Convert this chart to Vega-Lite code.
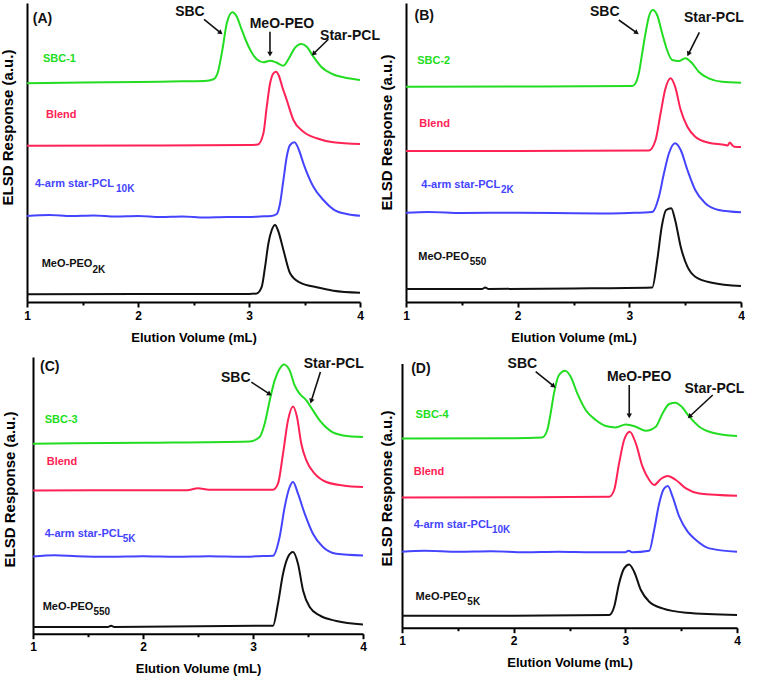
{
  "$schema": "https://vega.github.io/schema/vega-lite/v6.json",
  "background": "white",
  "padding": {"left": 0, "top": 3, "right": 0, "bottom": 0},
  "autosize": {"type": "pad"},
  "config": {
    "view": {"stroke": null},
    "axis": {"domainColor": "#000", "domainWidth": 2, "tickColor": "#000", "tickWidth": 2, "labelFont": "Liberation Sans", "labelFontSize": 12, "labelFontWeight": "bold", "labelColor": "#000", "titleFont": "Liberation Sans", "titleFontSize": 13, "titleFontWeight": "bold", "titleColor": "#000", "grid": false, "labelPadding": 3},
    "text": {"font": "Liberation Sans"}
  },
  "datasets": {
    "traces": [
      {"p":"A","s":"SBC","v":1,"r":218.7},{"p":"A","s":"SBC","v":1.5,"r":219.5},{"p":"A","s":"SBC","v":2,"r":220},{"p":"A","s":"SBC","v":2.3,"r":220.5},{"p":"A","s":"SBC","v":2.6,"r":221},{"p":"A","s":"SBC","v":2.68,"r":222.7},{"p":"A","s":"SBC","v":2.72,"r":230},{"p":"A","s":"SBC","v":2.76,"r":252},{"p":"A","s":"SBC","v":2.8,"r":278.7},{"p":"A","s":"SBC","v":2.85,"r":289.7},{"p":"A","s":"SBC","v":2.89,"r":285.3},{"p":"A","s":"SBC","v":2.93,"r":273.7},{"p":"A","s":"SBC","v":2.97,"r":262},{"p":"A","s":"SBC","v":3.02,"r":250.3},{"p":"A","s":"SBC","v":3.07,"r":242.7},{"p":"A","s":"SBC","v":3.13,"r":239.7},{"p":"A","s":"SBC","v":3.19,"r":241.3},{"p":"A","s":"SBC","v":3.25,"r":239.3},{"p":"A","s":"SBC","v":3.31,"r":236.3},{"p":"A","s":"SBC","v":3.36,"r":243.7},{"p":"A","s":"SBC","v":3.41,"r":253.7},{"p":"A","s":"SBC","v":3.47,"r":258},{"p":"A","s":"SBC","v":3.52,"r":255.3},{"p":"A","s":"SBC","v":3.58,"r":245.3},{"p":"A","s":"SBC","v":3.65,"r":235.3},{"p":"A","s":"SBC","v":3.75,"r":228},{"p":"A","s":"SBC","v":3.85,"r":224.7},{"p":"A","s":"SBC","v":4,"r":222},
      {"p":"A","s":"Blend","v":1,"r":156.3},{"p":"A","s":"Blend","v":2,"r":156.5},{"p":"A","s":"Blend","v":3,"r":157},{"p":"A","s":"Blend","v":3.08,"r":157.5},{"p":"A","s":"Blend","v":3.13,"r":168.7},{"p":"A","s":"Blend","v":3.16,"r":195.3},{"p":"A","s":"Blend","v":3.19,"r":218.7},{"p":"A","s":"Blend","v":3.22,"r":228.7},{"p":"A","s":"Blend","v":3.245,"r":230.3},{"p":"A","s":"Blend","v":3.27,"r":226},{"p":"A","s":"Blend","v":3.3,"r":215},{"p":"A","s":"Blend","v":3.34,"r":202},{"p":"A","s":"Blend","v":3.4,"r":182},{"p":"A","s":"Blend","v":3.49,"r":170.3},{"p":"A","s":"Blend","v":3.61,"r":163.7},{"p":"A","s":"Blend","v":3.76,"r":159.7},{"p":"A","s":"Blend","v":4,"r":158},
      {"p":"A","s":"PCL","v":1,"r":86},{"p":"A","s":"PCL","v":1.2,"r":87},{"p":"A","s":"PCL","v":1.4,"r":86},{"p":"A","s":"PCL","v":1.6,"r":86.5},{"p":"A","s":"PCL","v":1.8,"r":85.5},{"p":"A","s":"PCL","v":2,"r":86},{"p":"A","s":"PCL","v":2.2,"r":85},{"p":"A","s":"PCL","v":2.4,"r":85.5},{"p":"A","s":"PCL","v":2.6,"r":84.5},{"p":"A","s":"PCL","v":2.8,"r":85},{"p":"A","s":"PCL","v":3,"r":85},{"p":"A","s":"PCL","v":3.1,"r":85.5},{"p":"A","s":"PCL","v":3.2,"r":86},{"p":"A","s":"PCL","v":3.25,"r":88},{"p":"A","s":"PCL","v":3.28,"r":98.7},{"p":"A","s":"PCL","v":3.31,"r":122},{"p":"A","s":"PCL","v":3.34,"r":145.3},{"p":"A","s":"PCL","v":3.37,"r":157},{"p":"A","s":"PCL","v":3.41,"r":159.7},{"p":"A","s":"PCL","v":3.45,"r":152},{"p":"A","s":"PCL","v":3.49,"r":138.7},{"p":"A","s":"PCL","v":3.58,"r":115.3},{"p":"A","s":"PCL","v":3.67,"r":102},{"p":"A","s":"PCL","v":3.76,"r":92.7},{"p":"A","s":"PCL","v":3.88,"r":88},{"p":"A","s":"PCL","v":4,"r":86.3},
      {"p":"A","s":"PEO","v":1,"r":7.7},{"p":"A","s":"PEO","v":2,"r":8},{"p":"A","s":"PEO","v":3,"r":8},{"p":"A","s":"PEO","v":3.07,"r":8.5},{"p":"A","s":"PEO","v":3.115,"r":15.3},{"p":"A","s":"PEO","v":3.145,"r":35.3},{"p":"A","s":"PEO","v":3.175,"r":58.7},{"p":"A","s":"PEO","v":3.205,"r":72},{"p":"A","s":"PEO","v":3.235,"r":77},{"p":"A","s":"PEO","v":3.26,"r":72},{"p":"A","s":"PEO","v":3.31,"r":52},{"p":"A","s":"PEO","v":3.37,"r":28.7},{"p":"A","s":"PEO","v":3.46,"r":19.3},{"p":"A","s":"PEO","v":3.61,"r":14.7},{"p":"A","s":"PEO","v":3.76,"r":11.3},{"p":"A","s":"PEO","v":4,"r":9.3},

      {"p":"B","s":"SBC","v":1,"r":215.3},{"p":"B","s":"SBC","v":2,"r":215.5},{"p":"B","s":"SBC","v":3.026,"r":216},{"p":"B","s":"SBC","v":3.055,"r":218.7},{"p":"B","s":"SBC","v":3.085,"r":228.7},{"p":"B","s":"SBC","v":3.115,"r":248.7},{"p":"B","s":"SBC","v":3.145,"r":268.7},{"p":"B","s":"SBC","v":3.175,"r":285.3},{"p":"B","s":"SBC","v":3.21,"r":292},{"p":"B","s":"SBC","v":3.249,"r":287},{"p":"B","s":"SBC","v":3.294,"r":268.7},{"p":"B","s":"SBC","v":3.338,"r":252},{"p":"B","s":"SBC","v":3.383,"r":242},{"p":"B","s":"SBC","v":3.443,"r":241},{"p":"B","s":"SBC","v":3.502,"r":243.7},{"p":"B","s":"SBC","v":3.562,"r":238.7},{"p":"B","s":"SBC","v":3.621,"r":230.3},{"p":"B","s":"SBC","v":3.711,"r":223.7},{"p":"B","s":"SBC","v":3.83,"r":220.3},{"p":"B","s":"SBC","v":4,"r":219.3},
      {"p":"B","s":"Blend","v":1,"r":151},{"p":"B","s":"Blend","v":2,"r":151},{"p":"B","s":"Blend","v":3.175,"r":151.5},{"p":"B","s":"Blend","v":3.235,"r":162},{"p":"B","s":"Blend","v":3.28,"r":188.7},{"p":"B","s":"Blend","v":3.32,"r":212},{"p":"B","s":"Blend","v":3.37,"r":223.7},{"p":"B","s":"Blend","v":3.41,"r":215.3},{"p":"B","s":"Blend","v":3.46,"r":192},{"p":"B","s":"Blend","v":3.52,"r":175.3},{"p":"B","s":"Blend","v":3.59,"r":165.3},{"p":"B","s":"Blend","v":3.71,"r":159.3},{"p":"B","s":"Blend","v":3.86,"r":157},{"p":"B","s":"Blend","v":3.88,"r":156.5},{"p":"B","s":"Blend","v":3.9,"r":159.5},{"p":"B","s":"Blend","v":3.92,"r":157},{"p":"B","s":"Blend","v":3.94,"r":155.3},{"p":"B","s":"Blend","v":4,"r":155},
      {"p":"B","s":"PCL","v":1,"r":89.3},{"p":"B","s":"PCL","v":1.2,"r":90},{"p":"B","s":"PCL","v":1.5,"r":89},{"p":"B","s":"PCL","v":2,"r":89.3},{"p":"B","s":"PCL","v":2.5,"r":88.8},{"p":"B","s":"PCL","v":2.8,"r":88.5},{"p":"B","s":"PCL","v":3,"r":89},{"p":"B","s":"PCL","v":3.205,"r":90},{"p":"B","s":"PCL","v":3.265,"r":105.3},{"p":"B","s":"PCL","v":3.31,"r":128.7},{"p":"B","s":"PCL","v":3.355,"r":148.7},{"p":"B","s":"PCL","v":3.41,"r":158.7},{"p":"B","s":"PCL","v":3.46,"r":152},{"p":"B","s":"PCL","v":3.52,"r":132},{"p":"B","s":"PCL","v":3.59,"r":112},{"p":"B","s":"PCL","v":3.68,"r":98.7},{"p":"B","s":"PCL","v":3.8,"r":92},{"p":"B","s":"PCL","v":4,"r":89.7},
      {"p":"B","s":"PEO","v":1,"r":13},{"p":"B","s":"PEO","v":1.68,"r":13},{"p":"B","s":"PEO","v":1.71,"r":14.5},{"p":"B","s":"PEO","v":1.74,"r":13},{"p":"B","s":"PEO","v":2.5,"r":13.5},{"p":"B","s":"PEO","v":3.205,"r":14.5},{"p":"B","s":"PEO","v":3.25,"r":42},{"p":"B","s":"PEO","v":3.29,"r":75.3},{"p":"B","s":"PEO","v":3.33,"r":92},{"p":"B","s":"PEO","v":3.375,"r":93.7},{"p":"B","s":"PEO","v":3.41,"r":82},{"p":"B","s":"PEO","v":3.46,"r":55.3},{"p":"B","s":"PEO","v":3.52,"r":35.3},{"p":"B","s":"PEO","v":3.59,"r":25.3},{"p":"B","s":"PEO","v":3.74,"r":19.3},{"p":"B","s":"PEO","v":4,"r":16},

      {"p":"C","s":"SBC","v":1,"r":190},{"p":"C","s":"SBC","v":2,"r":191},{"p":"C","s":"SBC","v":2.97,"r":192.3},{"p":"C","s":"SBC","v":3.06,"r":196.7},{"p":"C","s":"SBC","v":3.106,"r":210},{"p":"C","s":"SBC","v":3.152,"r":233.3},{"p":"C","s":"SBC","v":3.197,"r":253.3},{"p":"C","s":"SBC","v":3.242,"r":265},{"p":"C","s":"SBC","v":3.282,"r":269.3},{"p":"C","s":"SBC","v":3.333,"r":263.3},{"p":"C","s":"SBC","v":3.379,"r":248.3},{"p":"C","s":"SBC","v":3.424,"r":240},{"p":"C","s":"SBC","v":3.485,"r":233.3},{"p":"C","s":"SBC","v":3.545,"r":223.3},{"p":"C","s":"SBC","v":3.606,"r":213.3},{"p":"C","s":"SBC","v":3.697,"r":203.3},{"p":"C","s":"SBC","v":3.818,"r":198.3},{"p":"C","s":"SBC","v":4,"r":196.7},
      {"p":"C","s":"Blend","v":1,"r":143.3},{"p":"C","s":"Blend","v":2,"r":143.5},{"p":"C","s":"Blend","v":2.4,"r":143.5},{"p":"C","s":"Blend","v":2.5,"r":145.5},{"p":"C","s":"Blend","v":2.6,"r":144},{"p":"C","s":"Blend","v":3.182,"r":144},{"p":"C","s":"Blend","v":3.227,"r":150},{"p":"C","s":"Blend","v":3.273,"r":180},{"p":"C","s":"Blend","v":3.318,"r":213.3},{"p":"C","s":"Blend","v":3.364,"r":227.3},{"p":"C","s":"Blend","v":3.4,"r":216.7},{"p":"C","s":"Blend","v":3.439,"r":190},{"p":"C","s":"Blend","v":3.485,"r":173.3},{"p":"C","s":"Blend","v":3.561,"r":160},{"p":"C","s":"Blend","v":3.667,"r":151.7},{"p":"C","s":"Blend","v":3.818,"r":148.3},{"p":"C","s":"Blend","v":4,"r":146.7},
      {"p":"C","s":"PCL","v":1,"r":77.3},{"p":"C","s":"PCL","v":1.2,"r":78.5},{"p":"C","s":"PCL","v":1.4,"r":77.5},{"p":"C","s":"PCL","v":1.7,"r":77},{"p":"C","s":"PCL","v":2,"r":77.5},{"p":"C","s":"PCL","v":2.3,"r":77},{"p":"C","s":"PCL","v":2.6,"r":77.5},{"p":"C","s":"PCL","v":2.9,"r":77},{"p":"C","s":"PCL","v":3.05,"r":77.5},{"p":"C","s":"PCL","v":3.182,"r":78},{"p":"C","s":"PCL","v":3.242,"r":96.7},{"p":"C","s":"PCL","v":3.288,"r":126.7},{"p":"C","s":"PCL","v":3.333,"r":146.7},{"p":"C","s":"PCL","v":3.364,"r":151.7},{"p":"C","s":"PCL","v":3.409,"r":140},{"p":"C","s":"PCL","v":3.47,"r":120},{"p":"C","s":"PCL","v":3.545,"r":100},{"p":"C","s":"PCL","v":3.636,"r":86.7},{"p":"C","s":"PCL","v":3.758,"r":80},{"p":"C","s":"PCL","v":4,"r":78.3},
      {"p":"C","s":"PEO","v":1,"r":6.7},{"p":"C","s":"PEO","v":1.68,"r":6.7},{"p":"C","s":"PEO","v":1.71,"r":8},{"p":"C","s":"PEO","v":1.74,"r":6.7},{"p":"C","s":"PEO","v":3.182,"r":8},{"p":"C","s":"PEO","v":3.227,"r":30},{"p":"C","s":"PEO","v":3.273,"r":60},{"p":"C","s":"PEO","v":3.318,"r":76.7},{"p":"C","s":"PEO","v":3.364,"r":81.7},{"p":"C","s":"PEO","v":3.409,"r":70},{"p":"C","s":"PEO","v":3.455,"r":43.3},{"p":"C","s":"PEO","v":3.515,"r":26.7},{"p":"C","s":"PEO","v":3.606,"r":18.3},{"p":"C","s":"PEO","v":3.758,"r":12.7},{"p":"C","s":"PEO","v":4,"r":9.3},

      {"p":"D","s":"SBC","v":1,"r":189.3},{"p":"D","s":"SBC","v":2,"r":189.5},{"p":"D","s":"SBC","v":2.256,"r":190.3},{"p":"D","s":"SBC","v":2.301,"r":197.7},{"p":"D","s":"SBC","v":2.331,"r":214.3},{"p":"D","s":"SBC","v":2.361,"r":234.3},{"p":"D","s":"SBC","v":2.406,"r":252.7},{"p":"D","s":"SBC","v":2.46,"r":257},{"p":"D","s":"SBC","v":2.511,"r":251},{"p":"D","s":"SBC","v":2.57,"r":234.3},{"p":"D","s":"SBC","v":2.645,"r":217.7},{"p":"D","s":"SBC","v":2.735,"r":207.7},{"p":"D","s":"SBC","v":2.825,"r":201.7},{"p":"D","s":"SBC","v":2.914,"r":200.3},{"p":"D","s":"SBC","v":3.004,"r":203.3},{"p":"D","s":"SBC","v":3.094,"r":201},{"p":"D","s":"SBC","v":3.184,"r":197},{"p":"D","s":"SBC","v":3.273,"r":201},{"p":"D","s":"SBC","v":3.333,"r":214.3},{"p":"D","s":"SBC","v":3.393,"r":223.7},{"p":"D","s":"SBC","v":3.447,"r":225},{"p":"D","s":"SBC","v":3.498,"r":221.7},{"p":"D","s":"SBC","v":3.573,"r":211},{"p":"D","s":"SBC","v":3.662,"r":201},{"p":"D","s":"SBC","v":3.782,"r":195},{"p":"D","s":"SBC","v":4,"r":191.7},
      {"p":"D","s":"Blend","v":1,"r":130.3},{"p":"D","s":"Blend","v":2,"r":130.5},{"p":"D","s":"Blend","v":2.855,"r":131},{"p":"D","s":"Blend","v":2.9,"r":137.7},{"p":"D","s":"Blend","v":2.944,"r":164.3},{"p":"D","s":"Blend","v":2.989,"r":187.7},{"p":"D","s":"Blend","v":3.04,"r":196},{"p":"D","s":"Blend","v":3.094,"r":184.3},{"p":"D","s":"Blend","v":3.154,"r":161},{"p":"D","s":"Blend","v":3.214,"r":147.7},{"p":"D","s":"Blend","v":3.258,"r":142.7},{"p":"D","s":"Blend","v":3.318,"r":148.7},{"p":"D","s":"Blend","v":3.378,"r":151.7},{"p":"D","s":"Blend","v":3.453,"r":147.7},{"p":"D","s":"Blend","v":3.543,"r":139.3},{"p":"D","s":"Blend","v":3.662,"r":134.3},{"p":"D","s":"Blend","v":4,"r":132},
      {"p":"D","s":"PCL","v":1,"r":76},{"p":"D","s":"PCL","v":1.2,"r":77},{"p":"D","s":"PCL","v":1.5,"r":76},{"p":"D","s":"PCL","v":1.8,"r":76.5},{"p":"D","s":"PCL","v":2.1,"r":75.5},{"p":"D","s":"PCL","v":2.4,"r":76},{"p":"D","s":"PCL","v":2.7,"r":75.5},{"p":"D","s":"PCL","v":3,"r":75.5},{"p":"D","s":"PCL","v":3.03,"r":77},{"p":"D","s":"PCL","v":3.06,"r":75.5},{"p":"D","s":"PCL","v":3.214,"r":77},{"p":"D","s":"PCL","v":3.258,"r":97.7},{"p":"D","s":"PCL","v":3.303,"r":124.3},{"p":"D","s":"PCL","v":3.348,"r":139.3},{"p":"D","s":"PCL","v":3.381,"r":141.7},{"p":"D","s":"PCL","v":3.423,"r":131},{"p":"D","s":"PCL","v":3.483,"r":111},{"p":"D","s":"PCL","v":3.558,"r":96},{"p":"D","s":"PCL","v":3.632,"r":87.7},{"p":"D","s":"PCL","v":3.752,"r":79.3},{"p":"D","s":"PCL","v":4,"r":76},
      {"p":"D","s":"PEO","v":1,"r":12},{"p":"D","s":"PEO","v":2,"r":12},{"p":"D","s":"PEO","v":2.855,"r":12.7},{"p":"D","s":"PEO","v":2.9,"r":21},{"p":"D","s":"PEO","v":2.944,"r":44.3},{"p":"D","s":"PEO","v":2.989,"r":59.3},{"p":"D","s":"PEO","v":3.034,"r":63.3},{"p":"D","s":"PEO","v":3.079,"r":56},{"p":"D","s":"PEO","v":3.139,"r":37.7},{"p":"D","s":"PEO","v":3.214,"r":26},{"p":"D","s":"PEO","v":3.333,"r":19.3},{"p":"D","s":"PEO","v":3.543,"r":15},{"p":"D","s":"PEO","v":4,"r":12.7}
    ],
    "labels": [
      {"p":"A","s":"SBC","t":"SBC-1","v":1.144,"r":243},{"p":"A","s":"Blend","t":"Blend","v":1.171,"r":187},{"p":"A","s":"PCL","t":"4-arm star-PCL","v":1.072,"r":118},{"p":"A","s":"PEO","t":"MeO-PEO","v":1.132,"r":38},
      {"p":"B","s":"SBC","t":"SBC-2","v":1.1,"r":241},{"p":"B","s":"Blend","t":"Blend","v":1.119,"r":178},{"p":"B","s":"PCL","t":"4-arm star-PCL","v":1.137,"r":117},{"p":"B","s":"PEO","t":"MeO-PEO","v":1.11,"r":45},
      {"p":"C","s":"SBC","t":"SBC-3","v":1.106,"r":213.3},{"p":"C","s":"Blend","t":"Blend","v":1.125,"r":171.7},{"p":"C","s":"PCL","t":"4-arm star-PCL","v":1.106,"r":100},{"p":"C","s":"PEO","t":"MeO-PEO","v":1.088,"r":26.7},
      {"p":"D","s":"SBC","t":"SBC-4","v":1.122,"r":212.7},{"p":"D","s":"Blend","t":"Blend","v":1.105,"r":156},{"p":"D","s":"PCL","t":"4-arm star-PCL","v":1.105,"r":102.7},{"p":"D","s":"PEO","t":"MeO-PEO","v":1.122,"r":31}
    ],
    "subs": [
      {"p":"A","s":"PCL","t":"10K","v":1.802,"r":113},{"p":"A","s":"PEO","t":"2K","v":1.59,"r":32},
      {"p":"B","s":"PCL","t":"2K","v":1.85,"r":112},{"p":"B","s":"PEO","t":"550","v":1.57,"r":40},
      {"p":"C","s":"PCL","t":"5K","v":1.816,"r":95},{"p":"C","s":"PEO","t":"550","v":1.55,"r":21.7},
      {"p":"D","s":"PCL","t":"10K","v":1.805,"r":97.7},{"p":"D","s":"PEO","t":"5K","v":1.585,"r":26}
    ],
    "notes": [
      {"p":"A","t":"(A)","v":1.14,"r":283},{"p":"A","t":"SBC","v":2.468,"r":290},{"p":"A","t":"MeO-PEO","v":3.297,"r":278.5},{"p":"A","t":"Star-PCL","v":3.91,"r":266},
      {"p":"B","t":"(B)","v":1.163,"r":286},{"p":"B","t":"SBC","v":2.78,"r":290},{"p":"B","t":"Star-PCL","v":3.757,"r":284.5},
      {"p":"C","t":"(C)","v":1.152,"r":266.8},{"p":"C","t":"SBC","v":2.843,"r":255.8},{"p":"C","t":"Star-PCL","v":3.734,"r":269.8},
      {"p":"D","t":"(D)","v":1.169,"r":259.2},{"p":"D","t":"SBC","v":2.078,"r":263.7},{"p":"D","t":"MeO-PEO","v":3.124,"r":251.2},{"p":"D","t":"Star-PCL","v":3.798,"r":239.2}
    ],
    "arrows": [
      {"p":"A","v":2.595,"r":282.7,"v2":2.739,"r2":269.7},{"p":"A","v":3.189,"r":270.3,"v2":3.189,"r2":248.7},{"p":"A","v":3.715,"r":262.7,"v2":3.586,"r2":248.7},
      {"p":"B","v":2.906,"r":282,"v2":3.061,"r2":269.7},{"p":"B","v":3.627,"r":269.7,"v2":3.532,"r2":248.7},
      {"p":"C","v":2.985,"r":251.6,"v2":3.145,"r2":240},{"p":"C","v":3.613,"r":261.6,"v2":3.531,"r2":233.3},
      {"p":"D","v":2.197,"r":256,"v2":2.353,"r2":242},{"p":"D","v":3.035,"r":242.7,"v2":3.035,"r2":212.7},{"p":"D","v":3.783,"r":232.7,"v2":3.58,"r2":211.7}
    ]
  },
  "columns": 2,
  "spacing": {"row": 55, "column": 39},
  "bounds": "flush",
  "concat": [
    {
      "width": 333, "height": 299,
      "layer": [
        {"data": {"name": "traces"}, "transform": [{"filter": "datum.p === 'A'"}], "mark": {"type": "line", "interpolate": "monotone", "strokeWidth": 2},
         "encoding": {
           "x": {"field": "v", "type": "quantitative", "scale": {"domain": [1, 4], "nice": false}, "axis": {"values": [1, 1.5, 2, 2.5, 3, 3.5, 4], "labelExpr": "datum.value % 1 === 0 ? '' + datum.value : ''", "labelOverlap": false, "labelFlush": false, "tickSize": {"condition": {"test": "datum.value % 1 !== 0", "value": 3}, "value": 5}, "title": "Elution Volume (mL)", "titlePadding": 10}},
           "y": {"field": "r", "type": "quantitative", "scale": {"domain": [0, 299], "nice": false}, "axis": {"title": "ELSD Response (a.u.)", "ticks": false, "labels": false, "titlePadding": 12, "titleY": 124, "titleFontSize": 15}},
           "color": {"field": "s", "type": "nominal", "scale": {"domain": ["SBC", "Blend", "PCL", "PEO"], "range": ["#22dd22", "#ff2255", "#4444ff", "#111111"]}, "legend": null}}},
        {"data": {"name": "labels"}, "transform": [{"filter": "datum.p === 'A'"}], "mark": {"type": "text", "align": "left", "baseline": "middle", "fontWeight": "bold", "fontSize": 11},
         "encoding": {"x": {"field": "v", "type": "quantitative"}, "y": {"field": "r", "type": "quantitative"}, "text": {"field": "t"}, "color": {"field": "s", "type": "nominal", "legend": null}}},
        {"data": {"name": "subs"}, "transform": [{"filter": "datum.p === 'A'"}], "mark": {"type": "text", "align": "left", "baseline": "middle", "fontWeight": "bold", "fontSize": 10},
         "encoding": {"x": {"field": "v", "type": "quantitative"}, "y": {"field": "r", "type": "quantitative"}, "text": {"field": "t"}, "color": {"field": "s", "type": "nominal", "legend": null}}},
        {"data": {"name": "notes"}, "transform": [{"filter": "datum.p === 'A'"}], "mark": {"type": "text", "align": "center", "baseline": "middle", "fontWeight": "bold", "fontSize": 14, "color": "#111"},
         "encoding": {"x": {"field": "v", "type": "quantitative"}, "y": {"field": "r", "type": "quantitative"}, "text": {"field": "t"}}},
        {"data": {"name": "arrows"}, "transform": [{"filter": "datum.p === 'A'"}], "mark": {"type": "rule", "strokeWidth": 1.6, "color": "#111"},
         "encoding": {"x": {"field": "v", "type": "quantitative"}, "y": {"field": "r", "type": "quantitative"}, "x2": {"field": "v2"}, "y2": {"field": "r2"}}},
        {"data": {"name": "arrows"}, "transform": [{"filter": "datum.p === 'A'"}, {"calculate": "atan2((datum.v2 - datum.v) * 111, datum.r2 - datum.r) * 180 / PI", "as": "ang"}], "mark": {"type": "point", "shape": "triangle", "filled": true, "size": 30, "color": "#111", "opacity": 1},
         "encoding": {"x": {"field": "v2", "type": "quantitative"}, "y": {"field": "r2", "type": "quantitative"}, "angle": {"field": "ang", "type": "quantitative", "scale": null}}}
      ]
    },
    {
      "width": 339, "height": 299,
      "layer": [
        {"data": {"name": "traces"}, "transform": [{"filter": "datum.p === 'B'"}], "mark": {"type": "line", "interpolate": "monotone", "strokeWidth": 2},
         "encoding": {
           "x": {"field": "v", "type": "quantitative", "scale": {"domain": [1, 4], "range": [4, 339], "nice": false}, "axis": {"values": [1, 1.5, 2, 2.5, 3, 3.5, 4], "labelExpr": "datum.value % 1 === 0 ? '' + datum.value : ''", "labelOverlap": false, "labelFlush": false, "tickSize": {"condition": {"test": "datum.value % 1 !== 0", "value": 3}, "value": 5}, "title": "Elution Volume (mL)", "titlePadding": 10}},
           "y": {"field": "r", "type": "quantitative", "scale": {"domain": [0, 299], "nice": false}, "axis": {"title": "ELSD Response (a.u.)", "ticks": false, "labels": false, "offset": -4, "titlePadding": 12, "titleY": 129, "titleFontSize": 15}},
           "color": {"field": "s", "type": "nominal", "scale": {"domain": ["SBC", "Blend", "PCL", "PEO"], "range": ["#22dd22", "#ff2255", "#4444ff", "#111111"]}, "legend": null}}},
        {"data": {"name": "labels"}, "transform": [{"filter": "datum.p === 'B'"}], "mark": {"type": "text", "align": "left", "baseline": "middle", "fontWeight": "bold", "fontSize": 11},
         "encoding": {"x": {"field": "v", "type": "quantitative"}, "y": {"field": "r", "type": "quantitative"}, "text": {"field": "t"}, "color": {"field": "s", "type": "nominal", "legend": null}}},
        {"data": {"name": "subs"}, "transform": [{"filter": "datum.p === 'B'"}], "mark": {"type": "text", "align": "left", "baseline": "middle", "fontWeight": "bold", "fontSize": 10},
         "encoding": {"x": {"field": "v", "type": "quantitative"}, "y": {"field": "r", "type": "quantitative"}, "text": {"field": "t"}, "color": {"field": "s", "type": "nominal", "legend": null}}},
        {"data": {"name": "notes"}, "transform": [{"filter": "datum.p === 'B'"}], "mark": {"type": "text", "align": "center", "baseline": "middle", "fontWeight": "bold", "fontSize": 14, "color": "#111"},
         "encoding": {"x": {"field": "v", "type": "quantitative"}, "y": {"field": "r", "type": "quantitative"}, "text": {"field": "t"}}},
        {"data": {"name": "arrows"}, "transform": [{"filter": "datum.p === 'B'"}], "mark": {"type": "rule", "strokeWidth": 1.6, "color": "#111"},
         "encoding": {"x": {"field": "v", "type": "quantitative"}, "y": {"field": "r", "type": "quantitative"}, "x2": {"field": "v2"}, "y2": {"field": "r2"}}},
        {"data": {"name": "arrows"}, "transform": [{"filter": "datum.p === 'B'"}, {"calculate": "atan2((datum.v2 - datum.v) * 111, datum.r2 - datum.r) * 180 / PI", "as": "ang"}], "mark": {"type": "point", "shape": "triangle", "filled": true, "size": 30, "color": "#111", "opacity": 1},
         "encoding": {"x": {"field": "v2", "type": "quantitative"}, "y": {"field": "r2", "type": "quantitative"}, "angle": {"field": "ang", "type": "quantitative", "scale": null}}}
      ]
    },
    {
      "width": 336, "height": 276.7,
      "layer": [
        {"data": {"name": "traces"}, "transform": [{"filter": "datum.p === 'C'"}], "mark": {"type": "line", "interpolate": "monotone", "strokeWidth": 2},
         "encoding": {
           "x": {"field": "v", "type": "quantitative", "scale": {"domain": [1, 4], "range": [6, 336], "nice": false}, "axis": {"values": [1, 1.5, 2, 2.5, 3, 3.5, 4], "labelExpr": "datum.value % 1 === 0 ? '' + datum.value : ''", "labelOverlap": false, "labelFlush": false, "tickSize": {"condition": {"test": "datum.value % 1 !== 0", "value": 3}, "value": 5}, "title": "Elution Volume (mL)", "titlePadding": 10}},
           "y": {"field": "r", "type": "quantitative", "scale": {"domain": [0, 276.7], "nice": false}, "axis": {"title": "ELSD Response (a.u.)", "ticks": false, "labels": false, "offset": -6, "titlePadding": 16, "titleY": 132, "titleFontSize": 15}},
           "color": {"field": "s", "type": "nominal", "scale": {"domain": ["SBC", "Blend", "PCL", "PEO"], "range": ["#22dd22", "#ff2255", "#4444ff", "#111111"]}, "legend": null}}},
        {"data": {"name": "labels"}, "transform": [{"filter": "datum.p === 'C'"}], "mark": {"type": "text", "align": "left", "baseline": "middle", "fontWeight": "bold", "fontSize": 11},
         "encoding": {"x": {"field": "v", "type": "quantitative"}, "y": {"field": "r", "type": "quantitative"}, "text": {"field": "t"}, "color": {"field": "s", "type": "nominal", "legend": null}}},
        {"data": {"name": "subs"}, "transform": [{"filter": "datum.p === 'C'"}], "mark": {"type": "text", "align": "left", "baseline": "middle", "fontWeight": "bold", "fontSize": 10},
         "encoding": {"x": {"field": "v", "type": "quantitative"}, "y": {"field": "r", "type": "quantitative"}, "text": {"field": "t"}, "color": {"field": "s", "type": "nominal", "legend": null}}},
        {"data": {"name": "notes"}, "transform": [{"filter": "datum.p === 'C'"}], "mark": {"type": "text", "align": "center", "baseline": "middle", "fontWeight": "bold", "fontSize": 14, "color": "#111"},
         "encoding": {"x": {"field": "v", "type": "quantitative"}, "y": {"field": "r", "type": "quantitative"}, "text": {"field": "t"}}},
        {"data": {"name": "arrows"}, "transform": [{"filter": "datum.p === 'C'"}], "mark": {"type": "rule", "strokeWidth": 1.6, "color": "#111"},
         "encoding": {"x": {"field": "v", "type": "quantitative"}, "y": {"field": "r", "type": "quantitative"}, "x2": {"field": "v2"}, "y2": {"field": "r2"}}},
        {"data": {"name": "arrows"}, "transform": [{"filter": "datum.p === 'C'"}, {"calculate": "atan2((datum.v2 - datum.v) * 111, datum.r2 - datum.r) * 180 / PI", "as": "ang"}], "mark": {"type": "point", "shape": "triangle", "filled": true, "size": 30, "color": "#111", "opacity": 1},
         "encoding": {"x": {"field": "v2", "type": "quantitative"}, "y": {"field": "r2", "type": "quantitative"}, "angle": {"field": "ang", "type": "quantitative", "scale": null}}}
      ]
    },
    {
      "width": 335, "height": 270.7,
      "layer": [
        {"data": {"name": "traces"}, "transform": [{"filter": "datum.p === 'D'"}], "mark": {"type": "line", "interpolate": "monotone", "strokeWidth": 2},
         "encoding": {
           "x": {"field": "v", "type": "quantitative", "scale": {"domain": [1, 4], "nice": false}, "axis": {"values": [1, 1.5, 2, 2.5, 3, 3.5, 4], "labelExpr": "datum.value % 1 === 0 ? '' + datum.value : ''", "labelOverlap": false, "labelFlush": false, "tickSize": {"condition": {"test": "datum.value % 1 !== 0", "value": 3}, "value": 5}, "title": "Elution Volume (mL)", "titlePadding": 10}},
           "y": {"field": "r", "type": "quantitative", "scale": {"domain": [0, 264.3], "range": [270.7, 6.4], "nice": false}, "axis": {"title": "ELSD Response (a.u.)", "ticks": false, "labels": false, "titlePadding": 8, "titleY": 131, "titleFontSize": 15}},
           "color": {"field": "s", "type": "nominal", "scale": {"domain": ["SBC", "Blend", "PCL", "PEO"], "range": ["#22dd22", "#ff2255", "#4444ff", "#111111"]}, "legend": null}}},
        {"data": {"name": "labels"}, "transform": [{"filter": "datum.p === 'D'"}], "mark": {"type": "text", "align": "left", "baseline": "middle", "fontWeight": "bold", "fontSize": 11},
         "encoding": {"x": {"field": "v", "type": "quantitative"}, "y": {"field": "r", "type": "quantitative"}, "text": {"field": "t"}, "color": {"field": "s", "type": "nominal", "legend": null}}},
        {"data": {"name": "subs"}, "transform": [{"filter": "datum.p === 'D'"}], "mark": {"type": "text", "align": "left", "baseline": "middle", "fontWeight": "bold", "fontSize": 10},
         "encoding": {"x": {"field": "v", "type": "quantitative"}, "y": {"field": "r", "type": "quantitative"}, "text": {"field": "t"}, "color": {"field": "s", "type": "nominal", "legend": null}}},
        {"data": {"name": "notes"}, "transform": [{"filter": "datum.p === 'D'"}], "mark": {"type": "text", "align": "center", "baseline": "middle", "fontWeight": "bold", "fontSize": 14, "color": "#111"},
         "encoding": {"x": {"field": "v", "type": "quantitative"}, "y": {"field": "r", "type": "quantitative"}, "text": {"field": "t"}}},
        {"data": {"name": "arrows"}, "transform": [{"filter": "datum.p === 'D'"}], "mark": {"type": "rule", "strokeWidth": 1.6, "color": "#111"},
         "encoding": {"x": {"field": "v", "type": "quantitative"}, "y": {"field": "r", "type": "quantitative"}, "x2": {"field": "v2"}, "y2": {"field": "r2"}}},
        {"data": {"name": "arrows"}, "transform": [{"filter": "datum.p === 'D'"}, {"calculate": "atan2((datum.v2 - datum.v) * 111, datum.r2 - datum.r) * 180 / PI", "as": "ang"}], "mark": {"type": "point", "shape": "triangle", "filled": true, "size": 30, "color": "#111", "opacity": 1},
         "encoding": {"x": {"field": "v2", "type": "quantitative"}, "y": {"field": "r2", "type": "quantitative"}, "angle": {"field": "ang", "type": "quantitative", "scale": null}}}
      ]
    }
  ]
}
